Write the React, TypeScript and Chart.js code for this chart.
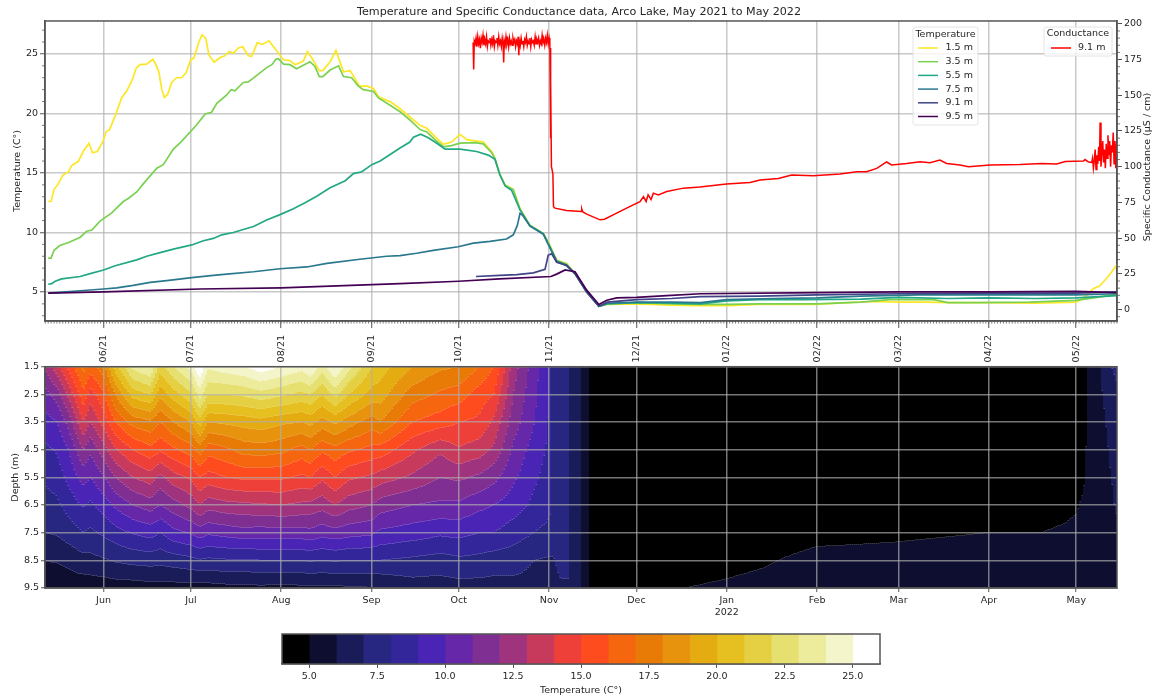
import React, { useEffect, useRef } from "react";
import { Chart, registerables } from "chart.js";

Chart.register(...registerables);

// Days are counted from 2021-06-01
const monthDays = [0, 30, 61, 92, 122, 153, 183, 214, 245, 273, 304, 334];
const topLabels = ["06/21", "07/21", "08/21", "09/21", "10/21", "11/21", "12/21", "01/22", "02/22", "03/22", "04/22", "05/22"];
const heatLabels: (string | string[])[] = ["Jun", "Jul", "Aug", "Sep", "Oct", "Nov", "Dec", ["Jan", "2022"], "Feb", "Mar", "Apr", "May"];
const tempTicks = [5, 10, 15, 20, 25];
const condTicks = [0, 25, 50, 75, 100, 125, 150, 175, 200];
const depthTicks = [1.5, 2.5, 3.5, 4.5, 5.5, 6.5, 7.5, 8.5, 9.5];
const colorbarTicks = [5, 7.5, 10, 12.5, 15, 17.5, 20, 22.5, 25];

const days15 = [-19, -18, -17, -15.5, -14, -12, -11, -8.6, -7, -5, -3.8, -2.1, -0.3, 1, 2, 4, 6.2, 8, 10, 11.2, 12.5, 14.8, 16.9, 17.8, 19, 20, 20.9, 22, 23.4, 25.1, 26.8, 28.3, 29.9, 31, 32.6, 33.8, 35.1, 36.2, 38, 40, 41.7, 43.1, 44.6, 46.3, 47.8, 49.7, 50.9, 52.8, 54.5, 56.8, 59.2, 61.8, 64, 65.8, 68.6, 70, 71.8, 74.1, 75.3, 77.8, 79.8, 82.4, 84.7, 87.9, 90.4, 92.7, 94.4, 97.2, 98.4, 101.3, 105.2, 108.7, 111, 113.8, 116.7, 119.5, 122.4, 124.7, 127.6, 130.4, 133.3, 134.4, 136.1, 137.9, 140.7, 143, 146.4, 151, 152.7, 155.6, 159, 161.9, 165.9, 170.1, 173, 183, 195, 205, 214, 225, 235, 245, 255, 265, 273, 283, 290, 304, 320, 334, 337, 340, 342, 345, 348];
const temp15 = [12.6, 12.6, 13.6, 14.1, 14.8, 15.1, 15.6, 16, 16.8, 17.5, 16.7, 16.8, 17.6, 18.5, 18.6, 19.8, 21.3, 21.9, 22.9, 23.8, 24.1, 24.15, 24.55, 24.2, 23.5, 22, 21.35, 21.6, 22.6, 23, 23, 23.4, 24.5, 24.65, 25.9, 26.6, 26.3, 24.9, 24.3, 24.7, 24.85, 25.2, 25.05, 25.5, 25.6, 24.85, 24.8, 25.95, 25.8, 26.1, 25.35, 24.5, 24.45, 24.1, 24.4, 25.2, 24.55, 23.6, 23.6, 24.35, 25.3, 23.5, 23.6, 22.3, 22.3, 22.1, 21.4, 21.1, 21, 20.5, 19.7, 19, 18.75, 18.05, 17.4, 17.6, 18.25, 17.8, 17.7, 17.6, 16.8, 16.25, 14.85, 14, 13.6, 12, 10.6, 9.9, 9.2, 7.65, 7.4, 6.5, 5.15, 3.8, 3.95, 4, 3.9, 3.85, 3.85, 3.95, 3.95, 3.95, 4.1, 4.2, 4.15, 4.15, 4.1, 4.1, 4.05, 4.15, 4.6, 5.3, 5.5, 6.3, 7.3];

const days35 = [-19, -18, -17, -15, -12, -8, -5.8, -4, -1.2, 2.8, 6.8, 8.5, 11.4, 13.7, 18.3, 20.5, 24, 26.8, 32, 34.9, 37.1, 38.9, 42.3, 43.8, 45.1, 48, 49.7, 53.2, 56, 57.8, 59.2, 60, 61.8, 64, 66.3, 70.9, 72.6, 74.1, 75.3, 77.8, 80.7, 82.4, 85.2, 87.5, 89.2, 92.7, 94.4, 98, 101.8, 105.2, 108.7, 111, 113.8, 116.7, 119.5, 122.4, 127.6, 130.4, 133.3, 134.4, 136.1, 137.9, 140.7, 143, 146.4, 151, 152.7, 155.6, 159, 161.9, 165.9, 170.1, 173, 183, 195, 205, 214, 225, 245, 260, 270, 285, 290, 300, 318, 334, 340, 348];
const temp35 = [7.85, 7.85, 8.5, 8.9, 9.15, 9.6, 10.1, 10.2, 10.95, 11.65, 12.6, 12.85, 13.4, 14.1, 15.4, 15.7, 17, 17.65, 19.05, 19.95, 20.1, 20.85, 21.55, 22, 21.9, 22.6, 22.65, 23.3, 23.85, 24.1, 24.55, 24.6, 24.15, 24.1, 23.75, 24.35, 23.95, 23.1, 23.1, 23.65, 24, 23.1, 23, 22.3, 22, 21.85, 21.3, 20.75, 20.15, 19.45, 18.65, 18.45, 17.8, 17.2, 17.3, 17.5, 17.55, 17.45, 16.7, 16.2, 14.85, 13.95, 13.6, 11.95, 10.6, 9.9, 9.15, 7.65, 7.35, 6.5, 5.1, 3.8, 4, 4.1, 4, 3.95, 3.95, 4, 4, 4.15, 4.35, 4.35, 4.1, 4.1, 4.15, 4.3, 4.5, 4.8];

const days55 = [-19, -17.8, -16.6, -14.4, -8, -5.2, 0, 4, 11.4, 14.8, 19.4, 24, 30.3, 34.3, 37.7, 40.6, 44.6, 48, 51.5, 56, 60.6, 65.2, 69.2, 73.2, 77.8, 83, 85.8, 88.7, 92.1, 95, 98.4, 101.8, 105.2, 106.4, 108.9, 111.5, 113.8, 117.3, 122.4, 128.1, 132.1, 134.4, 136.1, 137.9, 140.1, 143, 146.4, 151, 152.7, 155.6, 159, 161.9, 165.9, 170.1, 173, 183, 195, 205, 214, 225, 240, 260, 273, 290, 304, 320, 334, 348];
const temp55 = [5.65, 5.7, 5.9, 6.1, 6.3, 6.5, 6.85, 7.2, 7.7, 8, 8.3, 8.6, 8.95, 9.3, 9.5, 9.8, 10, 10.25, 10.5, 11.05, 11.5, 12, 12.5, 13.05, 13.75, 14.35, 14.95, 15.1, 15.7, 16, 16.55, 17.1, 17.6, 18, 18.25, 17.95, 17.6, 17, 17, 16.8, 16.5, 16.15, 14.85, 13.9, 13.55, 11.9, 10.55, 9.9, 9.05, 7.6, 7.25, 6.55, 5, 3.8, 4, 4.1, 4.05, 4, 4.25, 4.35, 4.35, 4.4, 4.55, 4.45, 4.5, 4.45, 4.5, 4.7];

const days75 = [-19, -8, 0, 4.5, 10.2, 16, 21.7, 30.3, 37.7, 42.3, 51.5, 60.6, 69.8, 76.7, 88, 97.2, 101.8, 107.5, 113.2, 121.8, 127, 132.7, 138.4, 140.7, 142.1, 143, 143.9, 146.4, 151, 152.7, 155.6, 159, 161.9, 165.9, 170.1, 173, 183, 195, 205, 214, 230, 245, 260, 280, 304, 334, 348];
const temp75 = [4.9, 5.1, 5.25, 5.35, 5.55, 5.8, 5.95, 6.2, 6.4, 6.5, 6.7, 6.95, 7.1, 7.4, 7.75, 8, 8.05, 8.25, 8.5, 8.8, 9.1, 9.25, 9.45, 9.8, 10.6, 11.6, 11.45, 10.55, 9.85, 9, 7.55, 7.2, 6.55, 5, 3.8, 4.05, 4.15, 4.15, 4.1, 4.35, 4.45, 4.5, 4.65, 4.75, 4.75, 4.75, 4.85];

const days91 = [127.9, 136.1, 141.9, 147.6, 151.6, 152.7, 153.9, 155.6, 159, 161.9, 165.9, 170.1, 173, 183, 195, 205, 225, 245, 273, 304, 334, 348];
const temp91 = [6.3, 6.4, 6.45, 6.6, 6.9, 8.1, 8.2, 7.5, 7.25, 6.55, 5, 3.8, 4.15, 4.35, 4.45, 4.6, 4.65, 4.75, 4.85, 4.9, 4.9, 5];

const days95 = [-19, 0, 33, 61, 101.8, 122, 136, 153.6, 155.6, 158.5, 161.9, 165.9, 170.1, 172.8, 176.2, 183, 193.4, 205, 245, 273, 304, 334, 348];
const temp95 = [4.9, 5, 5.25, 5.35, 5.7, 5.9, 6.1, 6.3, 6.5, 6.85, 6.7, 5.15, 3.95, 4.3, 4.5, 4.55, 4.7, 4.85, 4.95, 5, 5, 5.05, 4.95];

const condDays = [126.9, 127.1, 127.3, 127.6, 127.9, 128.2, 128.5, 128.8, 129.1, 129.4, 129.7, 130, 130.3, 130.6, 130.9, 131.2, 131.5, 131.8, 132.1, 132.4, 132.7, 133, 133.3, 133.6, 133.9, 134.2, 134.5, 134.8, 135.1, 135.4, 135.7, 136, 136.3, 136.6, 136.9, 137.2, 137.4, 137.6, 137.9, 138.2, 138.5, 138.8, 139.1, 139.4, 139.7, 140, 140.3, 140.6, 140.9, 141.2, 141.5, 141.8, 142.1, 142.4, 142.6, 142.8, 143.1, 143.4, 143.7, 144, 144.3, 144.6, 144.9, 145.2, 145.5, 145.8, 146.1, 146.4, 146.7, 147, 147.3, 147.6, 147.9, 148.2, 148.5, 148.8, 149.1, 149.4, 149.7, 150, 150.3, 150.6, 150.9, 151.2, 151.5, 151.8, 152.1, 152.4, 152.7, 153, 153.2, 153.3, 153.4, 153.45, 153.5, 153.6, 153.8, 154.3, 154.5, 155, 159, 164, 164.2, 164.5, 165.9, 170.5, 172, 175, 179.6, 184.2, 185.4, 186.3, 187, 188, 188.8, 190.5, 193.4, 199.1, 204.8, 213.9, 222, 225.4, 231.7, 236.3, 243.7, 252.9, 258.6, 262, 265.5, 268.9, 270.6, 275.8, 280.4, 283.8, 287.2, 289.5, 294.1, 297, 304.4, 314.7, 322.2, 327.3, 330.2, 336.5, 337, 338.2, 339.3, 339.6, 339.9, 340.2, 340.5, 340.8, 341.1, 341.4, 341.7, 342, 342.2, 342.5, 342.8, 343.1, 343.4, 343.7, 344, 344.3, 344.6, 344.9, 345.2, 345.5, 345.8, 346.1, 346.4, 346.7, 347, 347.3, 347.6, 347.9];
const condValues = [187, 168, 188, 186, 190, 184, 191, 186, 189, 183, 190, 187, 192, 185, 189, 186, 191, 184, 188, 187, 190, 185, 189, 186, 192, 184, 188, 187, 190, 185, 191, 186, 188, 184, 190, 186, 173, 188, 185, 191, 186, 189, 184, 190, 186, 188, 185, 190, 187, 189, 184, 188, 186, 191, 178, 189, 185, 190, 186, 188, 184, 189, 187, 191, 185, 188, 186, 190, 184, 189, 187, 188, 185, 191, 186, 189, 187, 190, 185, 188, 186, 192, 187, 189, 185, 190, 187, 192, 186, 190, 189, 186, 150, 183, 120, 160, 100, 95, 72, 71, 69.3, 68.6, 70.5, 68.5, 66.8, 62.8, 63.2, 66.3, 71, 75.6, 79, 75.6, 80.3, 77, 81.5, 80.3, 82.6, 85, 85.8, 87.9, 89, 90.7, 91.8, 94.2, 93.7, 94.9, 96.5, 96.5, 98.8, 103.3, 101.2, 102.3, 103.5, 102.8, 104.7, 102.3, 101.2, 100, 101.2, 101.6, 102.3, 101.9, 103.7, 104, 105, 103.3, 103, 106, 99, 104, 112, 98, 108, 102, 114, 104, 131, 100, 110, 118, 103, 112, 99, 116, 106, 122, 108, 118, 100, 115, 110, 124, 102, 118, 99, 117, 108, 119, 112, 118];

const heatDepths = [1.5, 2.5, 3.5, 4.5, 5.5, 6.5, 7.5, 8.5, 9.5];
const heatDays = [-20.1, -16, -12, -8, -7, -4.5, 0, 4, 10, 16, 19.5, 24, 30, 33, 36, 42, 48, 54, 61, 68, 71, 75, 79.5, 84, 92, 95, 106, 115.5, 122, 129, 134, 140.7, 147.6, 153, 154, 157, 160, 163.7, 167, 170, 200, 214, 225, 245, 273, 304, 322, 330, 334, 336, 337.5, 338, 342, 344, 346, 348];
const heatColumns = [
  [12.2, 10.6, 9.6, 8.8, 8.2, 7.5, 7.0, 6.0, 5.2],
  [13.6, 11.5, 10, 9.1, 8.5, 7.8, 7.1, 6.1, 5.2],
  [15.3, 13.3, 11.4, 10, 9.3, 8.4, 7.5, 6.3, 5.3],
  [16.9, 15.2, 13.5, 11.6, 10.2, 9, 7.9, 6.6, 5.4],
  [17.4, 15.8, 14, 12, 10.4, 9.1, 8, 6.6, 5.4],
  [16.5, 14.5, 13, 11.2, 10, 8.8, 7.8, 6.7, 5.4],
  [17.6, 15.9, 14.4, 12.6, 10.9, 9.5, 8.2, 6.9, 5.4],
  [20.5, 18, 16, 13.9, 12, 10.2, 8.6, 7.1, 5.5],
  [23.3, 20.4, 17.4, 15, 13, 11, 9.1, 7.3, 5.5],
  [24.1, 21, 17.8, 15.7, 13.5, 11.5, 9.4, 7.4, 5.6],
  [21.5, 19.3, 17, 15.2, 12.7, 11, 9, 7.3, 5.6],
  [23, 20.5, 18, 15.8, 13.6, 11.6, 9.7, 7.5, 5.6],
  [24.4, 21.8, 19, 16.5, 14.2, 12.3, 10.1, 7.7, 5.6],
  [26, 23.5, 20.5, 17.5, 15, 13, 10.5, 7.9, 5.6],
  [24.2, 22, 19, 16.4, 14.6, 12.4, 10.2, 7.8, 5.6],
  [24.6, 22, 19.2, 16.8, 15, 12.7, 10.4, 7.9, 5.7],
  [24.9, 22.2, 19.4, 17.4, 15.2, 12.8, 10.6, 7.9, 5.7],
  [25.6, 22.6, 19.6, 17.5, 15.2, 12.9, 10.5, 8, 5.8],
  [25, 22.2, 19.2, 17.3, 15.2, 13, 10.6, 8, 5.7],
  [24.4, 21.7, 19, 16.6, 14.8, 12.8, 10.6, 8, 5.8],
  [25.1, 22, 19.3, 17, 15, 12.7, 10.7, 8.1, 5.8],
  [23.5, 21, 18.6, 16.2, 14.2, 12.4, 10.4, 8, 5.8],
  [25.2, 22.3, 19.2, 16.7, 15, 13, 10.6, 8.1, 5.8],
  [23.4, 21, 18.5, 16.2, 14.2, 12.4, 10.4, 8, 5.9],
  [21, 19.6, 17.5, 15.7, 13.8, 12, 10.2, 8, 5.95],
  [20.5, 19.5, 18, 15.6, 13.5, 11.5, 9.8, 8, 6],
  [19, 17.5, 16, 14.2, 12.8, 11, 9.5, 7.8, 6.5],
  [18.2, 16.8, 15.5, 13.2, 12, 10.8, 9.2, 7.6, 6.5],
  [18, 16.5, 15, 13.9, 12.2, 10.8, 9.3, 7.8, 6.6],
  [17, 15.5, 14.8, 13.5, 11.8, 10.3, 9, 7.7, 6.6],
  [16, 15, 13.8, 12.8, 11.3, 10, 9, 7.5, 6.6],
  [12.5, 12, 11.5, 10.8, 10.2, 9.5, 8.5, 7.4, 6.7],
  [10.5, 10.3, 10.1, 9.6, 9.2, 8.8, 8, 7, 6.7],
  [9.1, 9, 8.9, 8.8, 8.6, 8.3, 7.7, 6.9, 6.8],
  [7.95, 7.95, 7.95, 7.95, 7.9, 7.9, 7.6, 6.9, 6.8],
  [7.5, 7.5, 7.5, 7.5, 7.5, 7.5, 7.5, 7.2, 6.9],
  [7, 7, 7, 7, 7, 7, 7, 7, 7],
  [6, 6, 6, 6, 6, 6, 6, 6, 6],
  [5, 5, 5, 5, 5, 5, 5, 5, 5],
  [4.6, 4.6, 4.6, 4.6, 4.6, 4.6, 4.6, 4.6, 4.6],
  [4.5, 4.5, 4.5, 4.5, 4.5, 4.5, 4.6, 4.7, 5.0],
  [4.5, 4.5, 4.5, 4.5, 4.5, 4.5, 4.6, 4.8, 5.1],
  [4.5, 4.5, 4.5, 4.5, 4.5, 4.5, 4.6, 4.9, 5.2],
  [4.5, 4.5, 4.5, 4.5, 4.5, 4.6, 4.8, 5.2, 5.3],
  [4.5, 4.5, 4.5, 4.5, 4.6, 4.7, 4.9, 5.2, 5.4],
  [4.5, 4.5, 4.5, 4.5, 4.6, 4.7, 5.0, 5.3, 5.5],
  [4.5, 4.5, 4.5, 4.5, 4.6, 4.7, 5.0, 5.3, 5.5],
  [4.5, 4.5, 4.5, 4.5, 4.6, 4.8, 5.1, 5.3, 5.5],
  [4.5, 4.5, 4.5, 4.6, 4.7, 4.9, 5.2, 5.4, 5.6],
  [4.6, 4.6, 4.6, 4.6, 4.8, 5.1, 5.3, 5.4, 5.6],
  [4.9, 4.95, 4.98, 5.05, 5.1, 5.2, 5.3, 5.4, 5.6],
  [5.05, 5.1, 5.2, 5.2, 5.25, 5.3, 5.4, 5.5, 5.6],
  [5.95, 5.8, 5.6, 5.5, 5.45, 5.4, 5.4, 5.5, 5.6],
  [6.5, 6.2, 6, 5.8, 5.7, 5.6, 5.5, 5.5, 5.5],
  [7, 6.6, 6.3, 6.2, 6, 5.9, 5.7, 5.5, 5.4],
  [7.2, 6.9, 6.6, 6.4, 6.2, 6.1, 5.9, 5.6, 5.4],
];

const bandEdges = [4, 5, 6, 7, 8, 9, 10, 11, 12, 13, 14, 15, 16, 17, 18, 19, 20, 21, 22, 23, 24, 25, 26];
const bandColors = ["#000000", "#0e0e30", "#1a1c5a", "#272680", "#33259a", "#4a25b5", "#6628a8", "#7f2f92", "#a0337e", "#c83a5c", "#ee3f38", "#ff4c1f", "#f5660f", "#e87b05", "#e8930e", "#e5ac12", "#e6c020", "#e5d044", "#e6e070", "#ecec9c", "#f5f5cc", "#ffffff"];

const tempSeries = [
  { label: "1.5 m", days: days15, values: temp15, color: "#fde725" },
  { label: "3.5 m", days: days35, values: temp35, color: "#7ad151" },
  { label: "5.5 m", days: days55, values: temp55, color: "#22a884" },
  { label: "7.5 m", days: days75, values: temp75, color: "#2a788e" },
  { label: "9.1 m", days: days91, values: temp91, color: "#414487" },
  { label: "9.5 m", days: days95, values: temp95, color: "#440154" },
];

const FONT = "'DejaVu Sans'";
const INK = "#262626";
const SPINE = "#555555";
const GRID_TOP = "rgba(176,176,176,0.68)";
const GRID_HEAT = "rgba(176,176,176,0.68)";
const xMin = -20.1;
const xMax = 348;

function points(days: number[], values: number[]) {
  return days.map((d, i) => ({ x: d, y: values[i] }));
}

function interpIndex(list: number[], v: number) {
  let i = 0;
  while (i < list.length - 2 && list[i + 1] < v) i++;
  const t = Math.max(0, Math.min(1, (v - list[i]) / (list[i + 1] - list[i])));
  return [i, t];
}

const framePlugin = {
  id: "frame",
  afterDraw(chart: any) {
    const { ctx, chartArea: a } = chart;
    ctx.save();
    ctx.strokeStyle = SPINE;
    ctx.lineWidth = 1.5;
    ctx.strokeRect(a.left, a.top, a.right - a.left, a.bottom - a.top);
    ctx.restore();
  },
};

const heatPlugin = {
  id: "heat",
  beforeDraw(chart: any) {
    const { ctx, chartArea: a, scales } = chart;
    const cells = chart.data.datasets[0].data;
    const nRows = heatDepths.length;
    const step = 2;
    ctx.save();
    ctx.beginPath();
    ctx.rect(a.left, a.top, a.right - a.left, a.bottom - a.top);
    ctx.clip();
    for (let px = a.left; px < a.right; px += step) {
      const d = scales.x.getValueForPixel(px + step / 2);
      const [ci, ct] = interpIndex(heatDays, d);
      let runStart = a.top;
      let runColor = "";
      for (let py = a.top; py < a.bottom; py += 1) {
        const depth = scales.y.getValueForPixel(py + 0.5);
        const [ri, rt] = interpIndex(heatDepths, depth);
        const v00 = cells[ci * nRows + ri].v;
        const v01 = cells[ci * nRows + ri + 1].v;
        const v10 = cells[(ci + 1) * nRows + ri].v;
        const v11 = cells[(ci + 1) * nRows + ri + 1].v;
        const v = (v00 * (1 - rt) + v01 * rt) * (1 - ct) + (v10 * (1 - rt) + v11 * rt) * ct;
        const band = Math.max(0, Math.min(bandColors.length - 1, Math.floor(v) - bandEdges[0]));
        const color = bandColors[band];
        if (color !== runColor) {
          if (runColor) {
            ctx.fillStyle = runColor;
            ctx.fillRect(px, runStart, step + 0.5, py - runStart);
          }
          runColor = color;
          runStart = py;
        }
      }
      ctx.fillStyle = runColor;
      ctx.fillRect(px, runStart, step + 0.5, a.bottom - runStart);
    }
    ctx.restore();
  },
};

const lineAnnotations = {
  id: "lineAnnotations",
  afterDraw(chart: any) {
    const { ctx, chartArea: a, scales } = chart;
    ctx.save();
    // minor ticks
    ctx.strokeStyle = SPINE;
    ctx.lineWidth = 0.8;
    ctx.beginPath();
    for (let d = Math.ceil(xMin); d <= xMax; d++) {
      const p = scales.x.getPixelForValue(d);
      ctx.moveTo(p, a.bottom);
      ctx.lineTo(p, a.bottom + 2.5);
    }
    for (let v = 3; v <= 27; v++) {
      if (v % 5 === 0) continue;
      const p = scales.y.getPixelForValue(v);
      ctx.moveTo(a.left - 3, p);
      ctx.lineTo(a.left, p);
    }
    for (let v = -5; v <= 200; v += 5) {
      if (v % 25 === 0) continue;
      const p = scales.y1.getPixelForValue(v);
      ctx.moveTo(a.right, p);
      ctx.lineTo(a.right + 3, p);
    }
    ctx.stroke();

    // right axis title, reading upwards
    ctx.fillStyle = INK;
    ctx.font = `9.5px ${FONT}`;
    ctx.textAlign = "center";
    ctx.textBaseline = "middle";
    ctx.save();
    ctx.translate(1148, 167);
    ctx.rotate(-Math.PI / 2);
    ctx.fillText("Specific Conductance (µS / cm)", 0, 0);
    ctx.restore();

    // legends
    const datasets = chart.data.datasets;
    const drawLegend = (box: number[], title: string, titleX: number, titleY: number, rows: any[], lineX0: number, lineX1: number, textX: number, rowY0: number, rowDy: number) => {
      const [x, y, w, h] = box;
      ctx.beginPath();
      ctx.roundRect(x, y, w, h, 2);
      ctx.fillStyle = "rgba(255,255,255,0.8)";
      ctx.fill();
      ctx.strokeStyle = "#dddddd";
      ctx.lineWidth = 0.8;
      ctx.stroke();
      ctx.fillStyle = INK;
      ctx.font = `9.5px ${FONT}`;
      ctx.textAlign = "center";
      ctx.fillText(title, titleX, titleY);
      rows.forEach((ds: any, i: number) => {
        const yy = rowY0 + i * rowDy;
        ctx.strokeStyle = ds.borderColor;
        ctx.lineWidth = 1.5;
        ctx.beginPath();
        ctx.moveTo(lineX0, yy);
        ctx.lineTo(lineX1, yy);
        ctx.stroke();
        ctx.fillStyle = INK;
        ctx.textAlign = "left";
        ctx.fillText(ds.label, textX, yy);
      });
    };
    drawLegend([913, 27, 65, 98], "Temperature", 945.5, 34.5, datasets.slice(0, 6), 918, 938, 945.5, 48, 13.7);
    drawLegend([1044, 27, 68, 29], "Conductance", 1078, 34, datasets.slice(6), 1051, 1071, 1078, 48, 13.7);
    ctx.restore();
  },
};

function fixedTicks(list: number[]) {
  return (scale: any) => {
    scale.ticks = list.map((value) => ({ value }));
  };
}

export default function App() {
  const topRef = useRef<HTMLCanvasElement>(null);
  const heatRef = useRef<HTMLCanvasElement>(null);
  const barRef = useRef<HTMLCanvasElement>(null);

  useEffect(() => {
    const tickFont = { family: FONT, size: 9.5 };
    const topChart = new Chart(topRef.current!, {
      type: "line",
      data: {
        datasets: [
          ...tempSeries.map((s, i) => ({
            label: s.label,
            data: points(s.days, s.values),
            borderColor: s.color,
            borderWidth: 1.7,
            pointRadius: 0,
            tension: 0,
            yAxisID: "y",
            order: 6 - i,
          })),
          {
            label: "9.1 m",
            data: points(condDays, condValues),
            borderColor: "#ff0000",
            borderWidth: 1.5,
            pointRadius: 0,
            tension: 0,
            yAxisID: "y1",
            order: 0,
          },
        ],
      },
      options: {
        responsive: false,
        animation: false,
        devicePixelRatio: 1,
        layout: { autoPadding: false, padding: 0 },
        plugins: {
          legend: { display: false },
          tooltip: { enabled: false },
          title: {
            display: true,
            text: "Temperature and Specific Conductance data, Arco Lake, May 2021 to May 2022",
            color: INK,
            font: { family: FONT, size: 11.15, weight: "normal", lineHeight: 1.2 },
            padding: { top: 5, bottom: 2.6 },
          },
        },
        scales: {
          x: {
            type: "linear",
            min: xMin,
            max: xMax,
            afterBuildTicks: fixedTicks(monthDays),
            afterFit: (s: any) => { s.height = 51; },
            grid: { color: GRID_TOP, lineWidth: 1.5, tickColor: SPINE, tickLength: 7, tickWidth: 1 },
            border: { color: SPINE, width: 1.5 },
            ticks: {
              autoSkip: false,
              minRotation: 90,
              maxRotation: 90,
              padding: 7,
              color: INK,
              font: tickFont,
              callback: (v: any) => topLabels[monthDays.indexOf(v)] ?? "",
            },
          },
          y: {
            position: "left",
            min: 2.56,
            max: 27.77,
            afterBuildTicks: fixedTicks(tempTicks),
            afterFit: (s: any) => { s.width = 45; },
            grid: { color: GRID_TOP, lineWidth: 1.5, tickColor: SPINE, tickLength: 5, tickWidth: 1 },
            border: { color: SPINE, width: 1.5 },
            title: { display: true, text: "Temperature (C°)", color: INK, font: tickFont, padding: { top: 12, bottom: 0 } },
            ticks: { color: INK, font: tickFont, padding: 2, callback: (v: any) => String(v) },
          },
          y1: {
            position: "right",
            min: -8,
            max: 202,
            afterBuildTicks: fixedTicks(condTicks),
            afterFit: (s: any) => { s.width = 41; },
            grid: { drawOnChartArea: false, tickColor: SPINE, tickLength: 5, tickWidth: 1 },
            border: { color: SPINE, width: 1.5 },
            ticks: { color: INK, font: tickFont, padding: 2, callback: (v: any) => String(v) },
          },
        },
      } as any,
      plugins: [framePlugin, lineAnnotations],
    } as any);

    const heatChart = new Chart(heatRef.current!, {
      type: "scatter",
      data: {
        datasets: [
          {
            label: "Temperature",
            data: heatDays.flatMap((d, c) => heatDepths.map((depth, r) => ({ x: d, y: depth, v: heatColumns[c][r] }))),
            pointRadius: 0,
            showLine: false,
          },
        ],
      },
      options: {
        responsive: false,
        animation: false,
        devicePixelRatio: 1,
        layout: { autoPadding: false, padding: { top: 6, right: 41, left: 0, bottom: 0 } },
        plugins: { legend: { display: false }, tooltip: { enabled: false } },
        scales: {
          x: {
            type: "linear",
            min: xMin,
            max: xMax,
            afterBuildTicks: fixedTicks(monthDays),
            afterFit: (s: any) => { s.height = 31; },
            grid: { color: GRID_HEAT, lineWidth: 1.5, tickColor: SPINE, tickLength: 4, tickWidth: 1 },
            border: { color: SPINE, width: 1.5 },
            ticks: {
              autoSkip: false,
              maxRotation: 0,
              padding: 3,
              color: INK,
              font: tickFont,
              callback: (v: any) => heatLabels[monthDays.indexOf(v)] ?? "",
            },
          },
          y: {
            reverse: true,
            min: 1.5,
            max: 9.5,
            afterBuildTicks: fixedTicks(depthTicks),
            afterFit: (s: any) => { s.width = 45; },
            grid: { color: GRID_HEAT, lineWidth: 1.5, tickColor: SPINE, tickLength: 4, tickWidth: 1 },
            border: { color: SPINE, width: 1.5 },
            title: { display: true, text: "Depth (m)", color: INK, font: tickFont, padding: { top: 10, bottom: 0 } },
            ticks: { color: INK, font: tickFont, padding: 2, callback: (v: any) => Number(v).toFixed(1) },
          },
        },
      } as any,
      plugins: [heatPlugin, framePlugin],
    } as any);

    const barChart = new Chart(barRef.current!, {
      type: "bar",
      data: {
        labels: ["Temperature"],
        datasets: bandColors.map((c, i) => ({
          label: `${bandEdges[i]}–${bandEdges[i + 1]}`,
          data: [[bandEdges[i], bandEdges[i + 1]]],
          backgroundColor: c,
          borderWidth: 0,
          barPercentage: 1,
          categoryPercentage: 1,
          grouped: false,
        })),
      },
      options: {
        indexAxis: "y",
        responsive: false,
        animation: false,
        devicePixelRatio: 1,
        layout: { autoPadding: false, padding: { top: 14, left: 282, right: 278, bottom: 0 } },
        plugins: { legend: { display: false }, tooltip: { enabled: false } },
        scales: {
          y: { display: false },
          x: {
            type: "linear",
            min: bandEdges[0],
            max: bandEdges[bandEdges.length - 1],
            afterBuildTicks: fixedTicks(colorbarTicks),
            afterFit: (s: any) => { s.height = 32; },
            grid: { drawOnChartArea: false, tickColor: SPINE, tickLength: 4, tickWidth: 1 },
            border: { color: SPINE, width: 1.5 },
            title: { display: true, text: "Temperature (C°)", color: INK, font: tickFont, padding: { top: 0, bottom: 0 } },
            ticks: { maxRotation: 0, color: INK, font: tickFont, padding: 3, callback: (v: any) => Number(v).toFixed(1) },
          },
        },
      } as any,
      plugins: [framePlugin],
    } as any);

    return () => {
      topChart.destroy();
      heatChart.destroy();
      barChart.destroy();
    };
  }, []);

  const canvasStyle = (top: number, height: number): React.CSSProperties => ({
    position: "absolute",
    left: 0,
    top,
    width: 1158,
    height,
    filter: "blur(0.4px)",
  });

  return (
    <div style={{ position: "absolute", left: 0, top: 0, width: 1158, height: 696, background: "#fff", overflow: "hidden" }}>
      <canvas ref={topRef} width={1158} height={372} style={canvasStyle(0, 372)} />
      <canvas ref={heatRef} width={1158} height={260} style={canvasStyle(359, 260)} />
      <canvas ref={barRef} width={1158} height={76} style={canvasStyle(620, 76)} />
    </div>
  );
}
